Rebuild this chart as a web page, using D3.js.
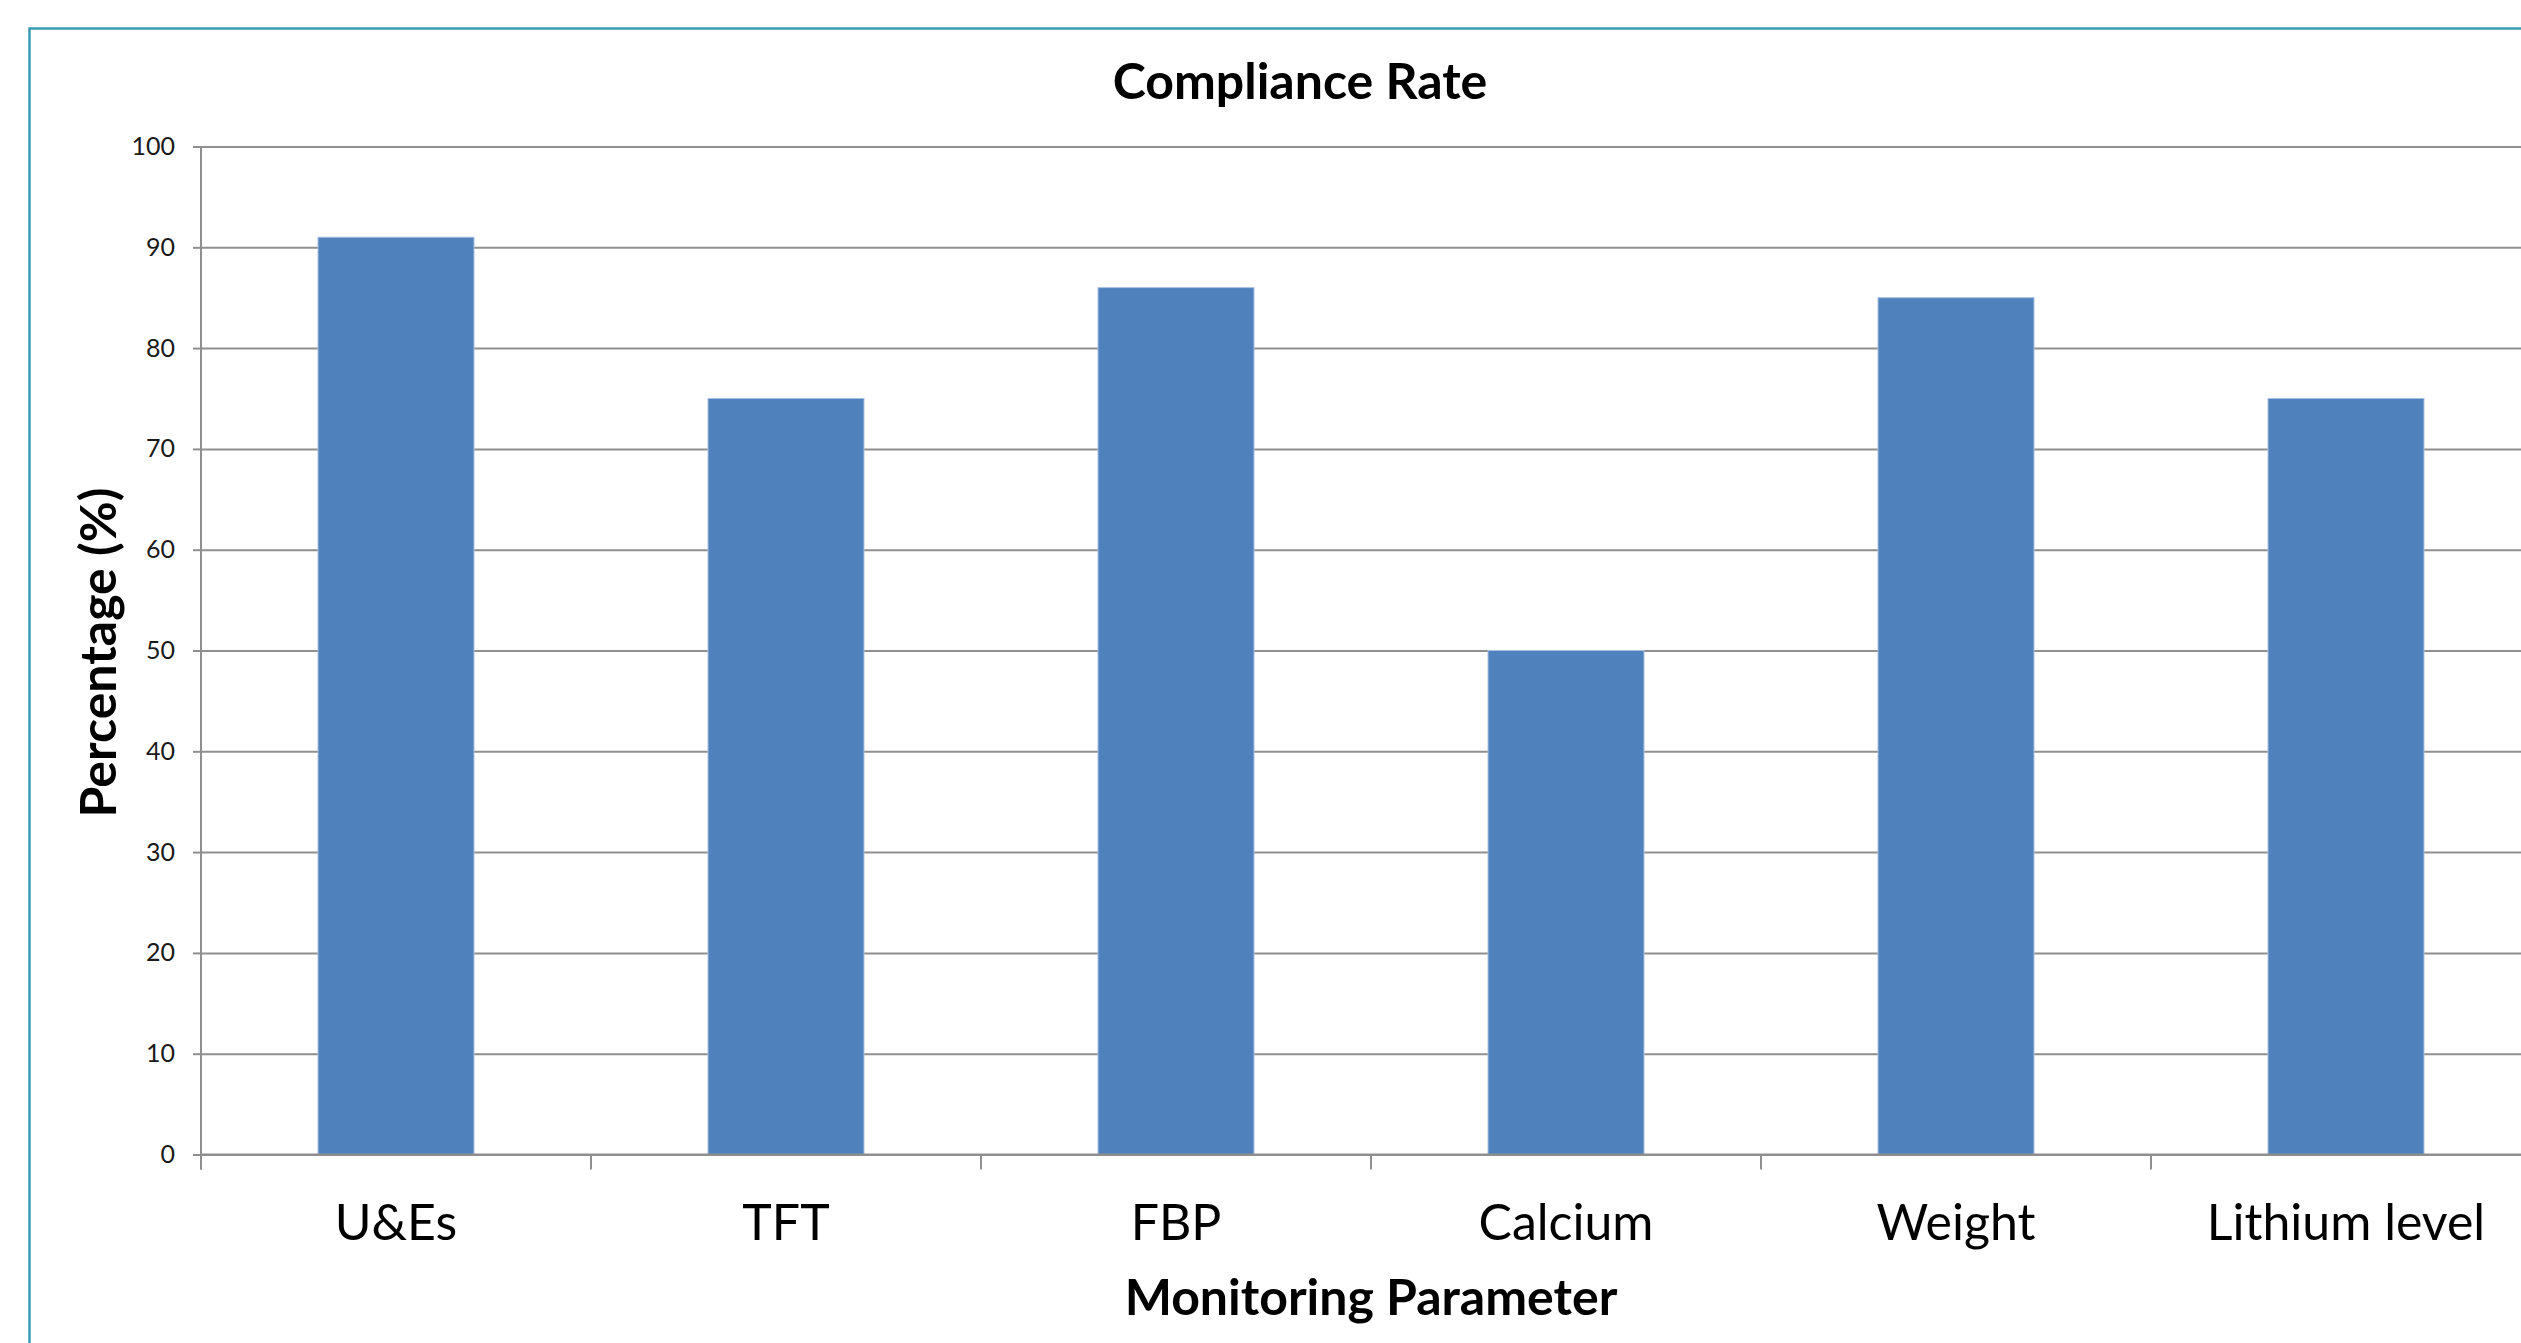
<!DOCTYPE html>
<html>
<head>
<meta charset="utf-8">
<script src="https://cdn.jsdelivr.net/npm/d3@7"></script>
<style>
  body { margin: 0; background: #fff; }
  svg { display: block; font-family: Lato, "Open Sans", sans-serif; }
</style>
</head>
<body>
<div id="chart"></div>
<script>
const categories = ['U&Es', 'TFT', 'FBP', 'Calcium', 'Weight', 'Lithium level'];
const values = [91, 75, 86, 50, 85, 75];
const yTicks = [0, 10, 20, 30, 40, 50, 60, 70, 80, 90, 100];

const width = 2521, height = 1343;
const margin = { top: 146.5, left: 201, bottom: 1154.5, right: 2541 };

const svg = d3.select('#chart').append('svg')
    .attr('width', width)
    .attr('height', height);

// outer chart frame (runs off the right and bottom edge)
svg.append('rect')
    .attr('x', 29.5).attr('y', 28.5)
    .attr('width', 2545).attr('height', 1400)
    .attr('fill', 'none')
    .attr('stroke', '#3b9cb3')
    .attr('stroke-width', 2.5);

const x = d3.scaleBand()
    .domain(categories)
    .range([margin.left, margin.right])
    .paddingInner(0.6)
    .paddingOuter(0.3);

const y = d3.scaleLinear()
    .domain([0, 100])
    .range([margin.bottom, margin.top]);

const step = x.step();
const gridColor = '#8f8f8f';

// y axis with gridlines
const yAxis = d3.axisLeft(y)
    .tickValues(yTicks)
    .tickSize(8)
    .tickPadding(18);

const gy = svg.append('g')
    .attr('transform', `translate(${margin.left},0)`)
    .call(yAxis);

gy.select('.domain').remove();
gy.selectAll('.tick line')
    .attr('stroke', gridColor)
    .attr('stroke-width', 2)
    .attr('x2', -8)
    .clone()
    .attr('x1', 0)
    .attr('x2', margin.right - margin.left + 20);
gy.selectAll('.tick text')
    .attr('font-size', 25)
    .attr('font-family', 'Lato, sans-serif')
    .attr('fill', '#1a1a1a');

// bars
svg.append('g')
    .selectAll('rect')
    .data(categories.map((c, i) => ({ c, v: values[i] })))
    .join('rect')
    .attr('x', d => x(d.c))
    .attr('y', d => y(d.v))
    .attr('width', x.bandwidth())
    .attr('height', d => y(0) - y(d.v))
    .attr('fill', '#4f81bd')
    .attr('stroke', '#a9c1e0')
    .attr('stroke-width', 1);

// x axis line and category boundary ticks
svg.append('line')
    .attr('x1', margin.left).attr('x2', margin.right + 20)
    .attr('y1', y(0)).attr('y2', y(0))
    .attr('stroke', gridColor).attr('stroke-width', 2);

svg.append('line')
    .attr('x1', margin.left).attr('x2', margin.left)
    .attr('y1', margin.top).attr('y2', y(0) + 15)
    .attr('stroke', gridColor).attr('stroke-width', 2);

const bounds = categories.map(c => x(c) - step * 0.3).concat([margin.right]);
svg.append('g')
    .selectAll('line')
    .data(bounds)
    .join('line')
    .attr('x1', d => d).attr('x2', d => d)
    .attr('y1', y(0)).attr('y2', y(0) + 15)
    .attr('stroke', gridColor).attr('stroke-width', 2);

svg.append('g')
    .selectAll('text')
    .data(categories)
    .join('text')
    .attr('x', d => x(d) + x.bandwidth() / 2)
    .attr('y', 1240)
    .attr('text-anchor', 'middle')
    .attr('font-size', 50)
    .attr('fill', '#000')
    .text(d => d);

// titles
svg.append('text')
    .attr('x', 1300).attr('y', 99)
    .attr('text-anchor', 'middle')
    .attr('font-size', 50)
    .attr('font-weight', 'bold')
    .text('Compliance Rate');

svg.append('text')
    .attr('x', (margin.left + margin.right) / 2).attr('y', 1315)
    .attr('text-anchor', 'middle')
    .attr('font-size', 50)
    .attr('font-weight', 'bold')
    .text('Monitoring Parameter');

svg.append('text')
    .attr('transform', `translate(116,${(margin.top + margin.bottom) / 2 + 2}) rotate(-90)`)
    .attr('text-anchor', 'middle')
    .attr('font-size', 50)
    .attr('font-weight', 'bold')
    .text('Percentage (%)');
</script>
</body>
</html>
